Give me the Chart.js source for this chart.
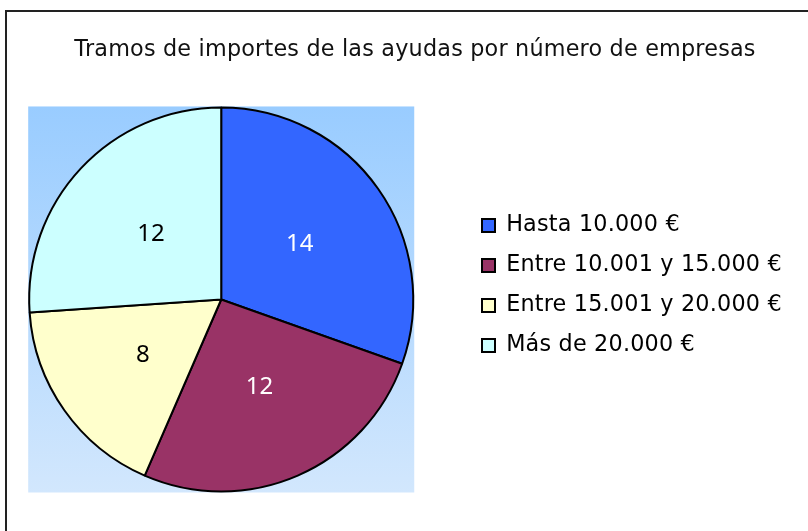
<!DOCTYPE html>
<html><head><meta charset="utf-8">
<script src="https://cdn.jsdelivr.net/npm/chart.js@4"></script>
<style>
html,body{margin:0;padding:0;background:#fff;overflow:hidden;}
#wrap{position:relative;width:808px;height:531px;overflow:hidden;}
#frame{position:absolute;left:5px;top:10px;width:900px;height:700px;border-left:2px solid #222;border-top:2px solid #222;box-sizing:border-box;pointer-events:none;}
canvas{position:absolute;left:0;top:0;}
</style></head>
<body><div id="wrap"><canvas id="c" width="808" height="531"></canvas><div id="frame"></div></div>
<script>
const chartTitle = 'Tramos de importes de las ayudas por número de empresas';
const categories = ['Hasta 10.000 €', 'Entre 10.001 y 15.000 €', 'Entre 15.001 y 20.000 €', 'Más de 20.000 €'];
const values = [14, 12, 8, 12];
const sliceColors = ['#3366FF', '#993366', '#FFFFCC', '#CCFFFF'];
const valueLabelColors = ['#FFFFFF', '#FFFFFF', '#000000', '#000000'];

const TEXT_SPACING = '0.2px';
const LEGEND_ITEM_X = 482;
const LEGEND_FIRST_ROW_Y = 214.3;
const TITLE_CENTER_X = 415;

const spacingPlugin = {
  id: 'spacing',
  beforeLayout(chart) { chart.ctx.letterSpacing = TEXT_SPACING; },
  beforeDraw(chart) { chart.ctx.letterSpacing = TEXT_SPACING; }
};

const placePlugin = {
  id: 'place',
  afterLayout(chart) {
    const lg = chart.legend;
    if (lg) {
      const pad = lg.options.labels.padding;
      const dx = LEGEND_ITEM_X - (lg.left + pad);
      lg.left += dx; lg.right += dx;
      const colH = lg.columnSizes && lg.columnSizes[0] ? lg.columnSizes[0].height : 0;
      const curY = (lg.top + pad + lg.bottom - colH) / 2;
      const dy = LEGEND_FIRST_ROW_Y - curY;
      lg.top += dy; lg.bottom += dy;
    }
    const tb = chart.titleBlock;
    if (tb) {
      const dx = TITLE_CENTER_X - (tb.left + tb.right) / 2;
      tb.left += dx; tb.right += dx;
    }
  }
};

const bgPlugin = {
  id: 'pieBg',
  beforeDatasetsDraw(chart) {
    const arc = chart.getDatasetMeta(0).data[0];
    if (!arc) return;
    const ctx = chart.ctx;
    const R = arc.outerRadius + 1;
    const g = ctx.createLinearGradient(0, arc.y - R, 0, arc.y + R);
    g.addColorStop(0, '#99CCFF');
    g.addColorStop(1, '#D2E7FD');
    ctx.save();
    ctx.fillStyle = g;
    ctx.fillRect(arc.x - R, arc.y - R, 2 * R, 2 * R);
    ctx.restore();
  }
};

const valueLabelPlugin = {
  id: 'valueLabels',
  afterDatasetsDraw(chart) {
    const ctx = chart.ctx;
    const meta = chart.getDatasetMeta(0);
    ctx.save();
    ctx.letterSpacing = '0px';
    ctx.font = '24px "Noto Sans"';
    ctx.textAlign = 'center';
    ctx.textBaseline = 'middle';
    meta.data.forEach((arc, i) => {
      const p = arc.getCenterPoint();
      ctx.fillStyle = valueLabelColors[i];
      ctx.fillText(String(values[i]), p.x, p.y);
    });
    ctx.restore();
  }
};

new Chart(document.getElementById('c'), {
  type: 'pie',
  data: {
    labels: categories,
    datasets: [{
      data: values,
      backgroundColor: sliceColors,
      borderColor: '#000000',
      borderWidth: 2,
      hoverOffset: 0
    }]
  },
  options: {
    responsive: false,
    animation: false,
    devicePixelRatio: 1,
    events: [],
    layout: { padding: { left: 0, right: 38, top: 0, bottom: 38.5 } },
    plugins: {
      title: {
        display: true,
        text: chartTitle,
        color: '#111111',
        font: { family: 'DejaVu Sans', size: 22.3, weight: 'normal', lineHeight: 1.2 },
        padding: { top: 37.2, bottom: 42.5 }
      },
      legend: {
        position: 'right',
        labels: {
          boxWidth: 13,
          boxHeight: 13,
          padding: 17.7,
          color: '#000000',
          font: { family: 'DejaVu Sans', size: 22.3 }
        }
      },
      tooltip: { enabled: false }
    }
  },
  plugins: [spacingPlugin, placePlugin, bgPlugin, valueLabelPlugin]
});
</script>
</body></html>
